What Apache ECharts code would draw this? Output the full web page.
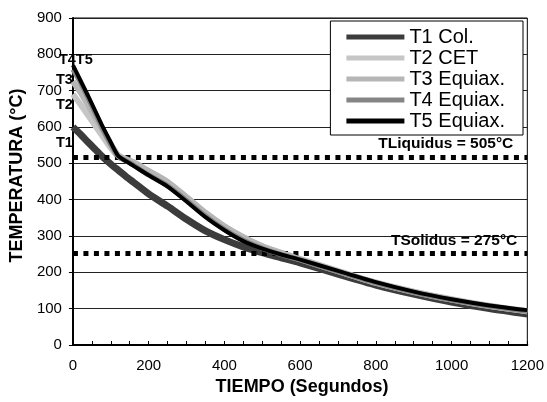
<!DOCTYPE html>
<html><head><meta charset="utf-8">
<script src="https://cdn.jsdelivr.net/npm/echarts@6/dist/echarts.min.js"></script>
<style>html,body{margin:0;padding:0;background:#fff}#c{width:547px;height:402px}</style>
</head><body><div id="c"></div>
<script>
const times = [0,20,40,60,80,100,120,140,160,200,250,300,350,400,450,500,550,600,700,800,900,1000,1100,1200];
const T1 = [600,580,558,537,516,498,481,464,448,416,382,346,314,290,270,254,240,226,195,165,140,118,100,85];
const T2 = [690,662,632,602,572,542,518,510,502,478,448,406,363,326,296,272,254,237,204,172,147,126,108,93];
const T3 = [725,695,660,624,588,552,522,512,503,479,449,407,364,327,297,272,253,236,203,171,146,125,107,93];
const T4 = [758,722,680,636,592,552,518,507,495,468,438,398,355,318,288,266,249,234,202,171,145,124,107,93];
const T5 = [770,728,686,642,598,558,520,506,493,467,436,395,352,316,286,265,249,235,204,173,147,126,109,96];
const seriesNames = ['T1 Col.','T2 CET','T3 Equiax.','T4 Equiax.','T5 Equiax.'];
const startLabels = ['T1','T2','T3','','T4T5'];
const startLabelY = [555,660,728,0,785];
const liquidus = 518, solidus = 252;
const liquidusLabel = 'TLiquidus = 505°C', solidusLabel = 'TSolidus = 275°C';

const FF = 'Liberation Sans, Arial, sans-serif';
const colors = ['#3c3c3c','#c6c6c6','#b6b6b6','#858585','#000000'];
const widths = [7,6,6,5,4];
const all = [T1,T2,T3,T4,T5];
const chart = echarts.init(document.getElementById('c'));
const series = all.map((arr,i)=>{
  const s = {
    name: seriesNames[i], type:'line', data: times.map((t,j)=>[t,arr[j]]),
    showSymbol:false, symbol:'none', smooth:0.25, z: i===0?3:(i+3),
    lineStyle:{color:colors[i], width:widths[i]}, itemStyle:{color:colors[i]}
  };
  if (startLabels[i]) {
    s.markPoint = {symbol:'circle', symbolSize:0, silent:true,
      data:[{coord:[0,startLabelY[i]], label:{show:true, formatter:startLabels[i],
        position: i===4?'right':'left', distance: i===4?-14:0,
        color:'#000', fontWeight:'bold', fontSize:14.5, fontFamily:FF}}]};
  }
  return s;
});
const dot = {color:'#000', width:5, type:[5,5.5]};
const refLabel = {show:true, position:'insideEndTop', color:'#000', fontWeight:'bold', fontSize:15.5, fontFamily:FF};
series.push({type:'line', data:[], markLine:{silent:true, symbol:'none', animation:false,
  data:[
    {yAxis:liquidus, lineStyle:dot, label:Object.assign({formatter:liquidusLabel, distance:[14,5]}, refLabel)},
    {yAxis:solidus, lineStyle:dot, label:Object.assign({formatter:solidusLabel, distance:[10,5]}, refLabel)}
  ]}});
chart.setOption({
  animation:false,
  grid:{left:72, right:18, top:18, bottom:57, show:true, borderColor:'#000', borderWidth:1, backgroundColor:'transparent'},
  legend:{data:seriesNames.map(n=>({name:n, icon:'rect'})), orient:'vertical', right:24, top:21,
    backgroundColor:'#fff', borderColor:'#000', borderWidth:1, padding:[6,18,4,16],
    itemWidth:58, itemHeight:5, itemGap:1,
    textStyle:{fontSize:20, lineHeight:19, color:'#000', fontFamily:FF}},
  xAxis:{type:'value', min:0, max:1200, interval:200,
    name:'TIEMPO (Segundos)', nameLocation:'middle', nameGap:31,
    nameTextStyle:{fontSize:18, fontWeight:'bold', color:'#000', fontFamily:FF, padding:[0,0,0,4]},
    axisLine:{lineStyle:{color:'#000', width:2}},
    axisTick:{inside:true, length:4, lineStyle:{color:'#000'}},
    minorTick:{show:true, splitNumber:4, length:4, lineStyle:{color:'#000'}},
    axisLabel:{fontSize:15, color:'#000', margin:13, fontFamily:FF, formatter:v=>String(v)},
    splitLine:{show:false}},
  yAxis:{type:'value', min:0, max:900, interval:100,
    name:'TEMPERATURA (°C)', nameLocation:'middle', nameGap:45,
    nameTextStyle:{fontSize:18, fontWeight:'bold', color:'#000', fontFamily:FF, padding:[0,0,0,12]},
    axisLine:{show:true, lineStyle:{color:'#000', width:2}},
    axisTick:{show:true, length:4, lineStyle:{color:'#000'}},
    axisLabel:{fontSize:15, color:'#000', margin:11, fontFamily:FF},
    splitLine:{show:true, lineStyle:{color:'#222', width:1}}},
  series:series
});
</script></body></html>
